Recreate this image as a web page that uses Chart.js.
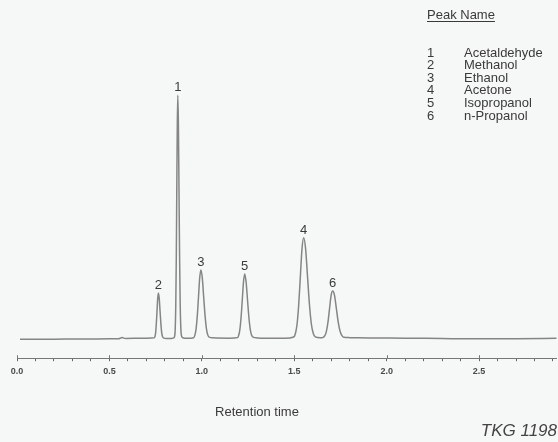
<!DOCTYPE html>
<html>
<head>
<meta charset="utf-8">
<script src="https://cdn.jsdelivr.net/npm/chart.js@4.4.1/dist/chart.umd.min.js"></script>
<style>
  html, body { margin: 0; padding: 0; background: #f6f7f7; }
  #wrap { width: 558px; height: 442px; position: relative; }
</style>
</head>
<body>
<div id="wrap"><canvas id="chrom"></canvas></div>
<script>
// Retention time (min) and detector signal
const retentionTimes = [
  0.016, 0.100, 0.200, 0.300, 0.400, 0.500, 0.550, 0.562, 0.570, 0.578, 0.590, 0.650, 0.700,
  0.7425, 0.7463, 0.750, 0.7538, 0.7575, 0.7613, 0.765, 0.7695, 0.774, 0.7785, 0.783, 0.7875, 0.792, 0.810, 0.830,
  0.840, 0.848, 0.8535, 0.8563, 0.859, 0.8618, 0.8645, 0.8673, 0.870, 0.8733, 0.8765, 0.8798, 0.883, 0.8863, 0.8895, 0.896, 0.905,
  0.930, 0.950,
  0.956, 0.9625, 0.969, 0.9755, 0.982, 0.9885, 0.995, 1.0025, 1.010, 1.0175, 1.025, 1.0325, 1.040, 1.060, 1.150,
  1.193, 1.1995, 1.206, 1.2125, 1.219, 1.2255, 1.232, 1.2395, 1.247, 1.2545, 1.262, 1.2695, 1.277, 1.300, 1.350, 1.450,
  1.497, 1.506, 1.515, 1.524, 1.533, 1.542, 1.551, 1.5615, 1.572, 1.5825, 1.593, 1.6035, 1.614, 1.640,
  1.657, 1.6655, 1.674, 1.6825, 1.691, 1.6995, 1.708, 1.718, 1.728, 1.738, 1.748, 1.758, 1.768, 1.800,
  1.900, 2.100, 2.300, 2.500, 2.700, 2.920
];
const signal = [
  0, 0, 0, 0.1, 0.2, 0.3, 0.4, 1.2, 1.6, 1.0, 0.7, 0.8, 0.9,
  1.3, 2.5, 6.2, 15.5, 27.9, 40.6, 46, 40.6, 27.9, 15.5, 6.2, 2.5, 1.2, 0.6, 0.6,
  0.8, 1.2, 3.5, 11.7, 33.8, 80, 148, 214, 243, 214, 148, 80, 33.8, 11.7, 3.7, 1.5, 1,
  1, 1.2,
  1.5, 4, 10.3, 23.4, 42, 61, 69, 61, 42, 23.4, 10.3, 4, 2, 1.3, 1.0,
  1.5, 3.8, 9.8, 22, 39.5, 57, 65, 57, 39.5, 22, 9.8, 3.8, 2, 1.2, 0.8, 0.8,
  2.1, 5.4, 14.6, 33.8, 62, 90, 101, 90, 62, 34, 14.6, 5.4, 2.2, 1.3,
  1.8, 3.4, 7.8, 16.9, 30.4, 43.6, 48, 43.6, 30.4, 16.9, 7.8, 3.4, 1.8, 1.5,
  1.2, 1.0, 0.6, 0.3, 0.5, 0.8
];

// Peak table
const peakNumbers = ["1", "2", "3", "4", "5", "6"];
const peakNames = ["Acetaldehyde", "Methanol", "Ethanol", "Acetone", "Isopropanol", "n-Propanol"];
const peakApexTimes = [0.870, 0.765, 0.995, 1.551, 1.232, 1.708];
const peakApexHeights = [243, 46, 69, 101, 65, 48];

// X axis ticks
const tickValues = [
  0.0, 0.1, 0.2, 0.3, 0.4, 0.5, 0.6, 0.7, 0.8, 0.9,
  1.0, 1.1, 1.2, 1.3, 1.4, 1.5, 1.6, 1.7, 1.8, 1.9,
  2.0, 2.1, 2.2, 2.3, 2.4, 2.5, 2.6, 2.7, 2.8, 2.9
];
const majorTicks = [0.0, 0.5, 1.0, 1.5, 2.0, 2.5];
const tickLabels = ["0.0", "0.5", "1.0", "1.5", "2.0", "2.5"];

const textFont = '"Liberation Sans", Arial, sans-serif';

// Nummern über den Peaks, Peak-Tabelle, Achsentitel, Kennung
const textPlugin = {
  id: "chromText",
  afterDraw(chart) {
    const ctx = chart.ctx;
    const xs = chart.scales.x;
    const ys = chart.scales.y;
    ctx.save();

    // kleine Striche über der Achse bei den Hauptmarken
    ctx.strokeStyle = "#777";
    ctx.lineWidth = 1;
    majorTicks.forEach((v) => {
      const px = Math.round(xs.getPixelForValue(v)) + 0.5;
      ctx.beginPath();
      ctx.moveTo(px, xs.top - 3);
      ctx.lineTo(px, xs.top);
      ctx.stroke();
    });

    ctx.fillStyle = "#3a3a3a";
    ctx.font = "13px " + textFont;
    ctx.textAlign = "center";
    ctx.textBaseline = "alphabetic";
    peakNumbers.forEach((n, i) => {
      const px = xs.getPixelForValue(peakApexTimes[i]);
      const py = ys.getPixelForValue(peakApexHeights[i]);
      ctx.fillText(n, px, py - 4);
    });

    // Peak table
    ctx.textAlign = "left";
    ctx.textBaseline = "middle";
    ctx.fillText("Peak Name", 427, 15);
    const w = ctx.measureText("Peak Name").width;
    ctx.fillRect(427, 21, w, 1);
    peakNumbers.forEach((n, i) => {
      const y = 53 + i * 12.6;
      ctx.fillText(n, 427, y);
      ctx.fillText(peakNames[i], 464, y);
    });

    ctx.textAlign = "center";
    ctx.fillText("Retention time", 257, 412);

    ctx.textAlign = "right";
    ctx.font = "italic 17px " + textFont;
    ctx.fillStyle = "#444";
    ctx.fillText("TKG 1198", 557, 431);
    ctx.restore();
  }
};

const ctx = document.getElementById("chrom");
new Chart(ctx, {
  type: "line",
  data: {
    datasets: [
      {
        data: retentionTimes.map((t, i) => ({ x: t, y: signal[i] })),
        borderColor: "#858585",
        borderWidth: 1.5,
        pointRadius: 0,
        fill: false,
        cubicInterpolationMode: "monotone",
      },
    ],
  },
  options: {
    responsive: true,
    maintainAspectRatio: false,
    animation: false,
    layout: { padding: { left: 17, right: 0, top: 20, bottom: 60 } },
    plugins: { legend: { display: false }, tooltip: { enabled: false } },
    scales: {
      x: {
        type: "linear",
        min: 0,
        max: 2.92,
        afterBuildTicks: (scale) => {
          scale.ticks = tickValues.map((v) => ({ value: v }));
        },
        grid: { drawOnChartArea: false, drawTicks: true, tickLength: 3, color: "#666" },
        border: { display: true, color: "#777", width: 1 },
        ticks: {
          autoSkip: false,
          maxRotation: 0,
          padding: 5,
          color: "#4a4a4a",
          font: { size: 9, family: textFont, weight: "bold" },
          callback: (v) => {
            const k = majorTicks.findIndex((m) => Math.abs(m - v) < 1e-6);
            return k >= 0 ? tickLabels[k] : "";
          },
        },
      },
      y: {
        display: false,
        min: -19,
        max: 318,
      },
    },
  },
  plugins: [textPlugin],
});
</script>
</body>
</html>
